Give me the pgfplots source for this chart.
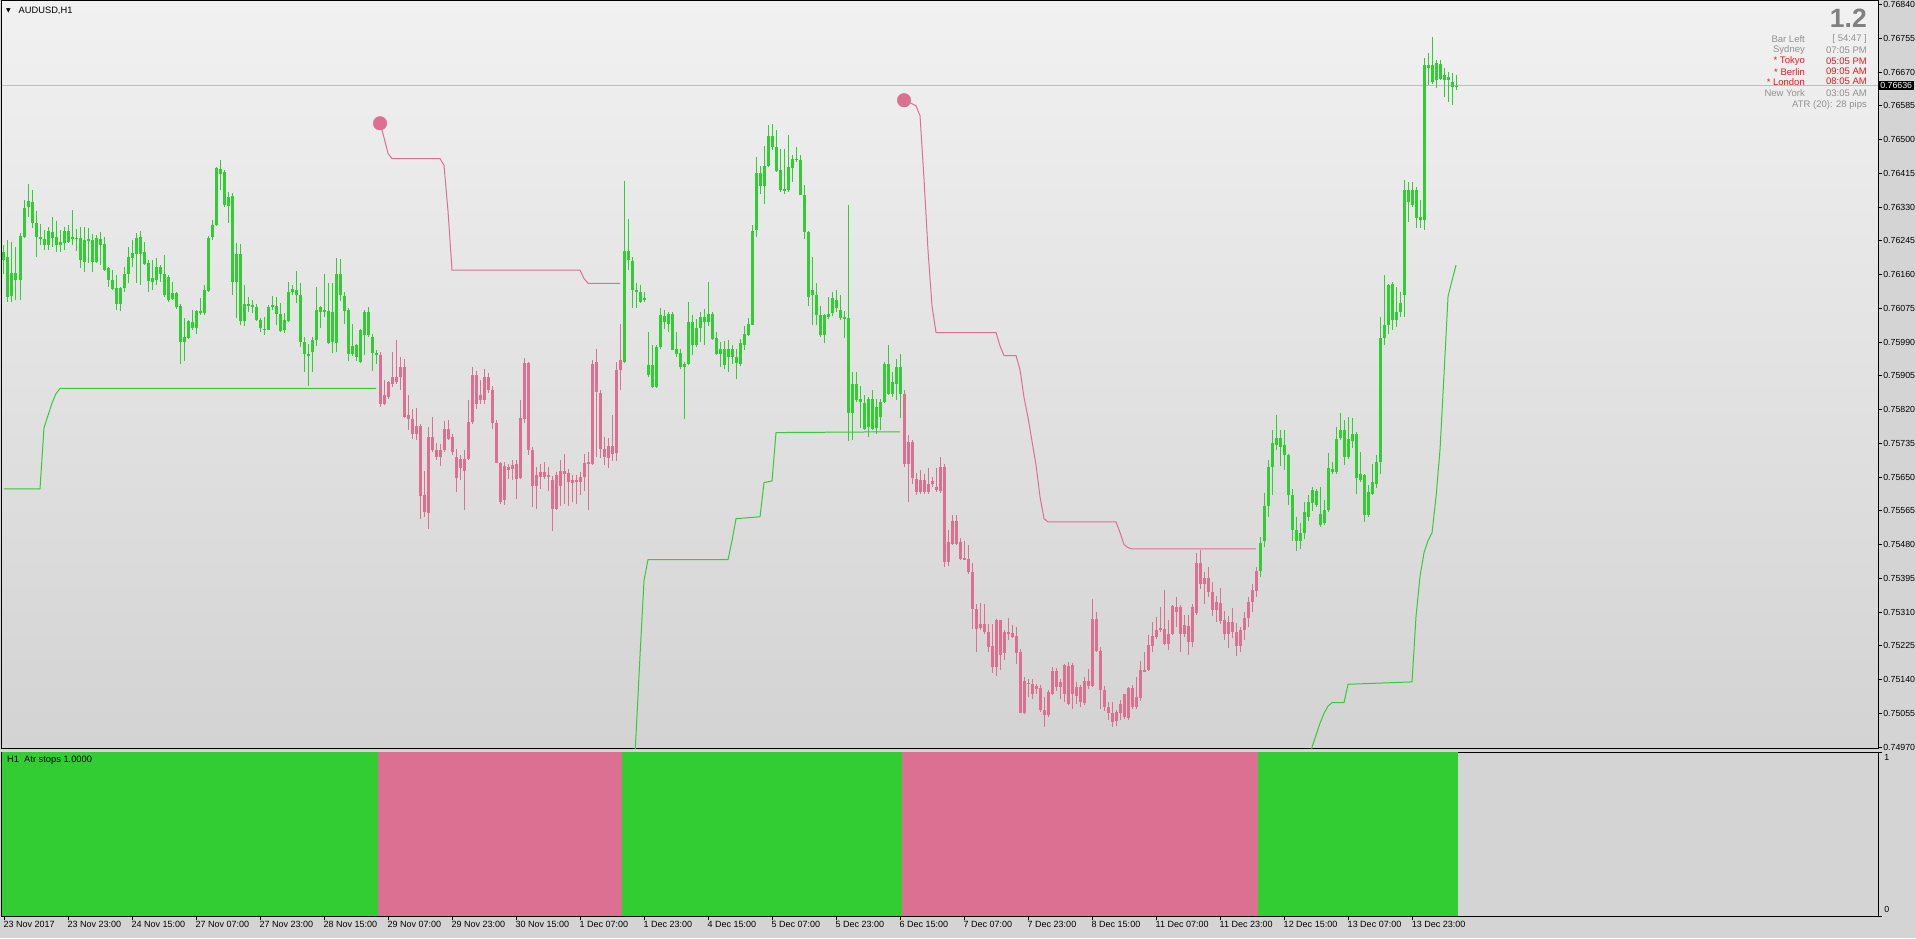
\documentclass[border=0pt]{standalone}
\usepackage{fontspec}
\setmainfont{Liberation Sans}
\newfontfamily\dejavu{DejaVu Sans}
\usepackage{pgfplots}
\usepackage{pgfplotstable}
\pgfplotsset{compat=1.18}
\definecolor{mtgreen}{RGB}{50,205,50}
\definecolor{mtpink}{RGB}{219,112,147}
\definecolor{bgtop}{RGB}{241,241,241}
\definecolor{bgbot}{RGB}{211,211,211}
\definecolor{outergray}{RGB}{212,212,212}
\definecolor{infogray}{RGB}{145,145,145}
\definecolor{infored}{RGB}{235,25,25}
\definecolor{bigone}{RGB}{128,128,128}
\definecolor{priceline}{RGB}{190,190,190}

% ---- H1 candles, prices in pips (x 1e-4) ----
\pgfplotstableread{
i o h l c
0 7621.8 7623.5 7616.3 7619.7
1 7620.4 7624.7 7609.2 7610.5
2 7610.5 7624.3 7609.2 7616.3
3 7616.3 7623.1 7609.6 7614.5
4 7614.7 7626.4 7609.6 7625.7
5 7625.7 7634.8 7625.2 7633.0
6 7633.0 7639.0 7630.6 7634.4
7 7634.4 7637.3 7627.7 7629.1
8 7629.1 7631.9 7620.5 7625.6
9 7625.6 7628.8 7623.5 7625.2
10 7625.2 7627.2 7622.2 7623.5
11 7623.5 7628.1 7622.4 7627.0
12 7626.8 7630.6 7623.1 7625.2
13 7625.4 7629.6 7621.8 7623.5
14 7623.5 7627.2 7621.8 7624.3
15 7624.1 7627.9 7622.2 7627.0
16 7627.0 7628.5 7623.9 7624.3
17 7625.2 7632.3 7623.5 7625.4
18 7625.3 7627.7 7622.2 7625.1
19 7625.2 7627.9 7617.6 7619.7
20 7619.3 7628.1 7616.8 7624.7
21 7624.6 7627.9 7618.9 7624.9
22 7624.7 7626.4 7616.8 7619.3
23 7619.3 7626.0 7618.9 7625.2
24 7625.2 7626.8 7618.4 7623.5
25 7623.6 7625.4 7617.0 7617.2
26 7617.6 7618.0 7613.0 7614.7
27 7614.7 7617.2 7612.1 7612.6
28 7612.8 7615.9 7607.1 7608.6
29 7608.6 7613.0 7606.9 7612.8
30 7612.6 7618.0 7611.7 7616.3
31 7616.3 7623.1 7613.8 7620.4
32 7620.1 7624.7 7618.0 7621.4
33 7621.4 7626.4 7613.8 7625.4
34 7625.7 7627.1 7613.4 7621.4
35 7621.8 7624.3 7618.4 7618.9
36 7618.9 7619.7 7611.7 7614.5
37 7614.2 7619.7 7612.1 7615.1
38 7614.7 7620.1 7613.4 7618.0
39 7618.0 7618.4 7614.2 7616.2
40 7616.2 7621.0 7610.5 7610.9
41 7615.5 7615.9 7609.2 7609.6
42 7610.0 7614.2 7609.6 7611.3
43 7611.3 7611.7 7607.3 7607.9
44 7608.1 7608.8 7593.5 7598.9
45 7599.1 7605.0 7594.3 7600.4
46 7600.0 7604.6 7599.7 7604.2
47 7604.2 7607.1 7602.1 7602.5
48 7602.5 7607.1 7601.2 7606.9
49 7606.9 7610.0 7605.8 7606.3
50 7606.3 7613.4 7605.8 7612.1
51 7612.0 7625.7 7611.7 7625.4
52 7625.4 7629.9 7624.9 7628.5
53 7628.5 7643.2 7628.3 7642.8
54 7642.8 7645.0 7637.3 7641.5
55 7641.9 7642.4 7633.1 7633.5
56 7633.3 7636.7 7628.9 7635.8
57 7635.8 7636.7 7610.9 7614.2
58 7614.2 7623.9 7605.0 7621.2
59 7621.2 7623.7 7603.3 7604.4
60 7604.4 7613.6 7603.3 7608.6
61 7608.6 7610.5 7606.7 7608.1
62 7608.4 7609.6 7606.4 7607.9
63 7607.9 7608.8 7604.4 7604.6
64 7604.6 7605.0 7601.6 7602.5
65 7602.5 7605.4 7600.8 7602.2
66 7602.2 7608.4 7602.1 7607.9
67 7608.4 7610.6 7607.1 7608.1
68 7608.1 7610.5 7603.3 7606.1
69 7606.3 7608.9 7601.6 7602.1
70 7602.1 7606.3 7601.4 7604.6
71 7604.4 7614.2 7604.2 7611.7
72 7611.7 7613.4 7610.9 7612.3
73 7612.3 7616.8 7608.8 7610.9
74 7610.9 7613.8 7597.7 7599.1
75 7599.1 7600.3 7591.5 7596.1
76 7596.1 7598.6 7588.1 7595.7
77 7596.5 7600.3 7591.5 7599.6
78 7599.6 7612.9 7598.2 7607.2
79 7606.6 7608.3 7602.8 7607.9
80 7607.2 7616.3 7605.4 7606.6
81 7607.0 7613.8 7598.6 7598.8
82 7599.1 7613.8 7596.3 7606.6
83 7598.8 7620.3 7596.5 7616.3
84 7616.3 7620.1 7609.6 7610.8
85 7610.8 7611.7 7603.5 7607.0
86 7607.2 7607.5 7594.4 7596.1
87 7596.1 7603.7 7595.7 7598.2
88 7598.2 7598.6 7594.4 7595.3
89 7594.0 7602.4 7593.6 7602.2
90 7600.7 7607.0 7595.7 7606.6
91 7606.6 7608.0 7600.3 7600.7
92 7600.3 7601.2 7591.9 7596.3
93 7596.3 7597.0 7593.6 7595.7
}\segA
\pgfplotstableread{
i o h l c
94 7595.7 7596.5 7582.7 7583.5
95 7583.5 7589.4 7583.1 7585.6
96 7585.2 7589.4 7584.8 7589.0
97 7588.6 7596.5 7587.7 7590.2
98 7590.4 7599.6 7588.6 7589.0
99 7590.2 7595.3 7586.9 7592.8
100 7592.8 7594.9 7579.8 7580.2
101 7580.6 7585.6 7576.8 7579.8
102 7579.8 7582.3 7574.7 7576.0
103 7576.0 7582.3 7574.3 7578.1
104 7578.1 7578.5 7554.6 7560.4
105 7560.4 7566.7 7555.0 7556.2
106 7556.0 7577.6 7552.0 7575.1
107 7575.1 7580.2 7571.4 7571.8
108 7571.9 7573.6 7569.3 7570.1
109 7570.1 7573.5 7568.0 7571.9
110 7571.8 7579.3 7571.4 7577.2
111 7577.2 7579.3 7574.3 7574.7
112 7575.1 7576.0 7570.5 7571.4
113 7570.1 7572.2 7561.3 7564.9
114 7567.2 7570.5 7564.2 7569.7
115 7569.7 7571.8 7556.7 7566.7
116 7569.7 7584.4 7569.3 7578.9
117 7578.9 7592.8 7578.5 7590.9
118 7590.9 7591.9 7582.3 7583.5
119 7584.4 7589.4 7583.5 7585.6
120 7584.4 7592.3 7583.5 7590.2
121 7590.2 7591.1 7586.2 7586.9
122 7586.9 7588.1 7577.2 7578.5
123 7578.7 7579.3 7568.4 7568.6
124 7568.6 7568.8 7558.3 7558.8
125 7559.2 7568.8 7557.9 7568.0
126 7567.6 7568.4 7564.6 7566.7
127 7567.2 7569.3 7564.2 7568.2
128 7568.4 7569.3 7559.6 7564.6
129 7564.9 7584.4 7564.6 7579.8
130 7579.8 7594.9 7578.5 7593.8
131 7593.8 7594.0 7570.5 7571.8
132 7571.9 7572.6 7557.5 7562.9
133 7562.9 7567.6 7557.1 7565.7
134 7565.2 7568.4 7562.1 7566.3
135 7566.3 7568.8 7564.6 7565.1
136 7565.1 7567.6 7561.7 7565.5
137 7564.2 7565.5 7551.6 7557.1
138 7557.1 7566.3 7556.7 7565.5
139 7566.7 7569.3 7557.9 7562.9
140 7565.9 7570.9 7558.3 7566.7
141 7566.1 7567.2 7557.9 7563.8
142 7564.2 7565.5 7558.8 7563.4
143 7563.8 7565.5 7558.3 7564.2
144 7563.8 7566.3 7560.4 7565.2
145 7565.1 7570.9 7561.7 7568.6
146 7568.8 7571.4 7556.7 7568.4
147 7568.4 7594.4 7568.0 7593.6
148 7594.0 7597.4 7570.1 7586.5
149 7586.1 7587.0 7570.0 7572.0
150 7572.0 7575.2 7568.0 7570.0
151 7570.0 7575.0 7567.5 7573.0
152 7573.0 7580.6 7569.0 7571.0
153 7571.0 7594.1 7569.0 7592.0
154 7592.0 7603.7 7586.9 7594.5
}\segB
\pgfplotstableread{
i o h l c
155 7594.1 7639.6 7593.6 7622.2
156 7622.2 7630.0 7617.2 7619.7
157 7619.4 7620.5 7607.7 7612.1
158 7612.1 7613.8 7607.5 7611.7
159 7611.7 7613.4 7608.8 7609.2
160 7609.6 7611.7 7609.2 7610.2
161 7593.2 7601.6 7590.3 7590.7
162 7593.2 7598.3 7587.5 7587.8
163 7587.8 7598.3 7587.4 7597.8
164 7597.8 7607.7 7597.4 7605.8
165 7605.8 7607.1 7602.5 7604.1
166 7603.7 7606.7 7601.6 7606.2
167 7606.2 7606.7 7597.0 7597.0
168 7597.4 7601.6 7595.3 7596.2
169 7596.2 7597.4 7592.4 7592.8
170 7592.8 7594.1 7579.8 7593.6
171 7593.6 7609.2 7593.2 7604.1
172 7604.1 7605.8 7595.7 7598.3
173 7598.3 7605.0 7597.8 7602.5
174 7602.5 7606.7 7599.1 7605.4
175 7605.4 7607.5 7598.3 7604.1
176 7604.1 7614.2 7603.3 7606.0
177 7606.2 7606.7 7599.5 7599.9
178 7600.1 7601.6 7595.7 7595.9
179 7596.2 7599.1 7592.8 7597.4
180 7597.4 7599.5 7592.4 7593.2
181 7595.3 7599.5 7591.5 7597.4
182 7597.3 7598.3 7593.6 7595.3
183 7595.3 7597.4 7589.9 7593.6
184 7593.6 7599.9 7593.2 7598.7
185 7598.3 7602.9 7597.0 7601.2
186 7600.8 7605.0 7600.4 7603.7
187 7603.5 7628.5 7603.3 7627.2
188 7627.2 7645.7 7625.5 7641.8
189 7641.8 7643.6 7636.5 7638.4
190 7638.4 7648.6 7633.9 7643.4
191 7643.4 7653.7 7643.2 7651.0
192 7651.0 7654.1 7647.4 7648.2
193 7648.2 7652.4 7641.9 7642.3
194 7642.3 7647.8 7636.9 7637.3
195 7637.1 7647.8 7636.5 7637.7
196 7637.3 7651.2 7636.9 7643.2
197 7642.9 7646.1 7639.4 7645.1
198 7645.1 7648.2 7644.4 7644.9
199 7644.9 7646.1 7636.0 7636.2
200 7636.2 7638.6 7625.1 7626.8
201 7626.8 7627.2 7608.3 7610.4
202 7610.9 7620.5 7603.3 7612.1
203 7611.0 7613.8 7603.3 7605.8
204 7606.0 7608.3 7600.4 7600.9
205 7600.9 7606.2 7598.7 7605.8
206 7605.4 7610.4 7605.0 7606.2
207 7606.2 7611.7 7605.8 7610.2
208 7609.6 7612.1 7606.7 7607.5
209 7607.1 7610.9 7604.6 7605.2
210 7605.4 7606.7 7599.9 7605.0
211 7605.0 7633.5 7574.3 7581.1
212 7581.1 7591.5 7574.3 7588.6
213 7588.6 7591.5 7584.0 7584.4
214 7584.7 7587.8 7577.3 7584.0
215 7583.8 7585.7 7576.9 7577.3
216 7577.7 7585.2 7575.2 7584.7
217 7584.7 7586.9 7576.9 7577.3
218 7577.3 7584.8 7576.0 7582.7
219 7580.2 7584.8 7576.9 7584.0
220 7584.0 7594.1 7583.6 7593.6
221 7593.6 7598.3 7585.7 7586.1
222 7586.1 7591.5 7585.2 7589.0
223 7588.6 7594.9 7584.4 7592.8
224 7592.8 7596.1 7580.0 7586.0
}\segC
\pgfplotstableread{
i o h l c
225 7586.0 7587.0 7567.6 7568.4
226 7568.4 7575.6 7558.8 7573.9
227 7573.9 7574.3 7563.4 7564.7
228 7564.7 7565.9 7560.5 7561.3
229 7561.3 7566.8 7560.9 7564.4
230 7564.4 7565.9 7560.9 7561.3
231 7561.3 7567.2 7560.9 7563.4
232 7563.4 7565.1 7562.6 7564.1
233 7562.6 7567.2 7561.3 7561.7
234 7561.7 7570.1 7560.9 7567.6
235 7567.6 7568.4 7542.4 7543.7
236 7543.7 7551.7 7542.8 7548.7
237 7548.3 7555.4 7547.9 7554.2
238 7554.2 7555.4 7547.9 7548.3
239 7548.7 7549.6 7544.1 7544.5
240 7544.8 7549.1 7544.1 7544.3
241 7544.5 7547.9 7540.7 7541.2
242 7541.2 7543.3 7526.6 7531.9
243 7531.9 7533.2 7521.0 7526.9
244 7527.1 7533.2 7526.5 7528.1
245 7528.0 7533.2 7525.6 7526.0
246 7526.0 7528.1 7521.0 7522.3
247 7522.4 7528.1 7515.6 7517.1
248 7517.1 7529.4 7515.1 7529.0
249 7529.0 7529.2 7516.4 7520.4
250 7520.8 7526.5 7518.9 7526.0
251 7526.0 7529.4 7524.0 7525.5
252 7525.8 7527.7 7524.4 7524.8
253 7525.0 7527.3 7518.1 7520.8
254 7521.0 7521.8 7505.5 7505.6
255 7505.6 7514.7 7505.5 7513.7
256 7513.2 7514.3 7509.7 7513.0
257 7513.0 7514.3 7509.3 7510.5
258 7511.8 7513.0 7510.5 7512.4
259 7511.8 7512.6 7505.9 7506.3
260 7506.3 7509.7 7502.1 7505.1
261 7505.1 7511.4 7504.6 7511.0
262 7510.5 7517.2 7510.1 7516.2
263 7516.2 7516.8 7511.0 7512.2
264 7512.2 7514.3 7509.3 7513.5
265 7510.5 7518.1 7508.4 7517.6
266 7517.6 7518.5 7507.6 7508.0
267 7510.5 7518.1 7506.7 7517.6
268 7512.2 7513.5 7508.0 7509.9
269 7508.4 7512.6 7507.2 7512.2
270 7508.2 7514.7 7507.6 7513.7
271 7513.7 7516.8 7511.8 7512.4
272 7512.4 7534.2 7512.2 7529.4
273 7529.4 7531.1 7521.0 7521.4
274 7521.4 7522.3 7506.7 7511.4
275 7511.4 7512.6 7506.3 7507.2
276 7507.2 7508.4 7503.8 7505.5
277 7505.6 7508.4 7502.1 7503.4
278 7503.8 7506.3 7502.5 7505.9
279 7505.5 7508.8 7503.8 7508.0
280 7504.6 7510.5 7504.2 7510.5
281 7504.2 7512.2 7503.8 7511.8
282 7507.2 7512.6 7506.7 7511.8
283 7507.2 7514.7 7506.7 7509.7
284 7509.3 7518.9 7508.8 7516.4
285 7516.4 7521.0 7516.0 7516.2
286 7516.4 7525.2 7516.2 7522.7
287 7522.7 7528.6 7521.0 7525.2
288 7524.8 7529.8 7524.4 7526.6
289 7526.5 7532.4 7526.0 7526.9
290 7526.9 7536.6 7522.7 7523.1
291 7523.1 7529.0 7521.4 7525.6
292 7525.5 7532.8 7525.2 7532.5
293 7532.4 7534.9 7527.3 7531.1
294 7532.4 7532.8 7521.0 7525.5
295 7525.5 7530.2 7524.8 7527.7
296 7527.7 7530.2 7520.2 7523.5
297 7523.5 7533.2 7522.3 7532.4
298 7530.8 7545.8 7530.2 7543.3
299 7543.3 7546.6 7537.0 7538.2
300 7538.2 7541.0 7533.0 7539.5
301 7539.5 7542.5 7535.0 7536.0
302 7536.0 7538.5 7530.0 7531.5
303 7531.5 7535.0 7528.5 7533.5
304 7533.5 7537.0 7528.0 7529.0
305 7529.0 7531.5 7524.0 7525.5
306 7525.5 7530.0 7522.0 7528.5
307 7528.5 7532.0 7524.5 7526.0
308 7526.0 7528.5 7520.0 7522.5
309 7522.5 7527.5 7521.0 7526.5
310 7526.5 7531.0 7524.0 7529.5
311 7529.5 7535.0 7527.5 7533.5
312 7533.5 7538.0 7531.0 7536.5
313 7536.5 7542.5 7535.0 7541.5
}\segD
\pgfplotstableread{
i o h l c
314 7541.5 7550.0 7540.0 7548.5
315 7549.0 7560.9 7547.5 7557.6
316 7557.6 7569.3 7555.0 7567.6
317 7567.6 7576.9 7560.5 7573.5
318 7573.1 7580.6 7571.8 7574.8
319 7574.8 7576.9 7568.0 7572.7
320 7573.1 7576.9 7566.8 7570.6
321 7570.6 7571.0 7558.0 7560.5
322 7560.5 7562.2 7549.0 7551.7
323 7551.7 7555.0 7546.5 7549.0
324 7549.0 7553.5 7547.0 7551.0
325 7551.0 7558.8 7549.5 7556.3
326 7555.0 7560.5 7554.2 7558.8
327 7558.4 7562.6 7556.7 7561.7
328 7561.7 7562.2 7557.6 7558.2
329 7555.9 7562.6 7552.5 7552.9
330 7553.4 7559.2 7552.9 7556.7
331 7556.7 7571.0 7556.3 7567.2
332 7567.2 7568.9 7565.9 7566.4
333 7566.4 7577.7 7565.9 7574.8
334 7574.8 7581.1 7574.3 7576.9
335 7576.9 7579.4 7568.0 7570.1
336 7570.1 7580.2 7569.7 7574.8
337 7574.3 7579.8 7572.2 7576.0
338 7576.0 7576.4 7560.9 7564.7
339 7564.3 7571.4 7563.8 7565.9
340 7565.5 7565.9 7553.8 7555.5
341 7555.5 7563.0 7555.0 7561.3
342 7560.9 7568.5 7560.5 7563.8
343 7563.4 7570.6 7562.2 7568.9
344 7568.9 7605.4 7565.9 7600.0
345 7600.0 7615.9 7598.3 7603.3
346 7603.3 7613.8 7601.2 7613.4
347 7613.8 7614.2 7602.1 7604.6
348 7604.6 7613.0 7602.9 7606.7
349 7606.7 7611.7 7605.4 7608.8
350 7610.9 7639.8 7605.4 7637.3
351 7637.3 7639.4 7629.3 7634.4
352 7633.5 7639.4 7633.1 7637.3
353 7637.3 7638.2 7627.7 7630.2
354 7629.8 7634.8 7627.7 7630.6
355 7629.8 7670.5 7627.2 7668.8
356 7668.8 7671.9 7663.8 7668.0
357 7664.6 7676.0 7664.2 7668.8
358 7669.2 7670.1 7662.9 7665.0
359 7665.4 7670.2 7665.0 7669.2
360 7666.3 7668.0 7660.8 7665.0
361 7665.0 7667.1 7659.6 7665.9
362 7664.6 7666.7 7658.7 7663.3
363 7663.3 7666.3 7662.5 7663.6
}\segE

\newcommand{\candles}[2]{%
  \addplot[draw=none, mark=none, forget plot,
    error bars/.cd, y dir=both, y explicit, error mark=none,
    error bar style={draw=#2, line width=1pt}]
    table[x=i, y expr={(\thisrow{h}+\thisrow{l})/2},
          y error expr={(\thisrow{h}-\thisrow{l})/2}] {#1};
  \addplot[draw=none, mark=none, forget plot,
    error bars/.cd, y dir=both, y explicit, error mark=none,
    error bar style={draw=#2, line width=3pt}]
    table[x=i, y expr={(\thisrow{o}+\thisrow{c})/2},
          y error expr={max(abs(\thisrow{o}-\thisrow{c})/2,0.13)}] {#1};
}

\begin{document}
\begin{tikzpicture}[x=1pt,y=1pt]
\fill[outergray] (0,0) rectangle (1916,938);

\begin{axis}[
  at={(2pt,189pt)}, anchor=south west,
  scale only axis, width=1876pt, height=748pt,
  xmin=-0.5, xmax=468.5, ymin=7496.5, ymax=7684.9,
  axis line style={black, line width=1pt},
  axis background/.style={top color=bgtop, bottom color=bgbot},
  xtick=\empty,
  ytick={7497,7505.5,7514,7522.5,7531,7539.5,7548,7556.5,7565,7573.5,7582,7590.5,7599,7607.5,7616,7624.5,7633,7641.5,7650,7658.5,7667,7675.5,7684},
  yticklabels={0.74970,0.75055,0.75140,0.75225,0.75310,0.75395,0.75480,0.75565,0.75650,0.75735,0.75820,0.75905,0.75990,0.76075,0.76160,0.76245,0.76330,0.76415,0.76500,0.76585,0.76670,0.76755,0.76840},
  ytick pos=right, yticklabel pos=right,
  tick align=outside, major tick length=4pt,
  tick style={black, line width=0.8pt},
  yticklabel style={font=\fontsize{8.8}{10}\selectfont, inner sep=1pt, xshift=0pt},
  clip=true,
]
% current price line
\addplot[priceline, line width=0.9pt] coordinates {(-0.5,7663.6) (468.5,7663.6)};
% ATR stop lines
\addplot[mtgreen, line width=1pt] coordinates {(0,7562.0) (9,7562.0) (10,7577.4) (11,7580.5) (12,7583.6) (13,7586.0) (14,7587.3) (93,7587.3)};
\addplot[mtpink, line width=1pt] coordinates {(94,7654.1) (95,7650.5) (96,7646.5) (97,7645.2) (109,7645.2) (110,7643.5) (111,7632.0) (112,7617.1) (144,7617.1) (145,7615.0) (146,7613.8) (154,7613.8)};
\addplot[mtgreen, line width=1pt] coordinates {(155,7440) (156,7460) (157,7482) (158,7500) (159,7520) (160,7539) (161,7544.2) (181,7544.2) (182,7549) (183,7554.5) (189,7555.0) (190,7563.6) (192,7564.0) (193,7576.2) (224,7576.4)};
\addplot[mtpink, line width=1pt] coordinates {(225,7659.9) (226,7659.5) (227,7659.0) (228,7658.5) (229,7656.0) (230,7640.0) (231,7622.0) (232,7608.0) (233,7601.4) (248,7601.4) (249,7598.0) (250,7595.6) (253,7595.6) (254,7592.0) (255,7585.0) (256,7580.0) (257,7574.0) (258,7568.0) (259,7560.0) (260,7554.5) (261,7553.7) (278,7553.7) (279,7551.0) (280,7548.0) (281,7547.2) (282,7546.9) (313,7546.9)};
\addplot[mtgreen, line width=1pt] coordinates {(314,7420) (326,7490) (327,7497) (328,7500) (329,7503) (330,7505.5) (331,7507.3) (332,7508.2) (335,7508.2) (336,7512.8) (352,7513.4) (353,7530) (354,7540) (355,7546) (356,7549) (357,7551) (358,7560) (359,7572) (360,7591) (361,7610.5) (362,7614.5) (363,7618.4)};
% candles
\candles{\segA}{mtgreen}
\candles{\segB}{mtpink}
\candles{\segC}{mtgreen}
\candles{\segD}{mtpink}
\candles{\segE}{mtgreen}
% reversal dots
\addplot[only marks, mark=*, mark size=6.8pt, mark options={fill=mtpink, draw=mtpink}] coordinates {(94,7654.1) (225,7659.9)};
\coordinate (bid) at (axis cs:468.5,7663.6);
\end{axis}

\begin{axis}[
  at={(2pt,22pt)}, anchor=south west,
  scale only axis, width=1876pt, height=164pt,
  xmin=-0.5, xmax=468.5, ymin=0, ymax=1,
  axis line style={black, line width=1pt},
  axis background/.style={fill=outergray},
  xtick={0,16,32,48,64,80,96,112,128,144,160,176,192,208,224,240,256,272,288,304,320,336,352},
  xticklabels={23 Nov 2017,23 Nov 23:00,24 Nov 15:00,27 Nov 07:00,27 Nov 23:00,28 Nov 15:00,29 Nov 07:00,29 Nov 23:00,30 Nov 15:00,1 Dec 07:00,1 Dec 23:00,4 Dec 15:00,5 Dec 07:00,5 Dec 23:00,6 Dec 15:00,7 Dec 07:00,7 Dec 23:00,8 Dec 15:00,11 Dec 07:00,11 Dec 23:00,12 Dec 15:00,13 Dec 07:00,13 Dec 23:00},
  xtick pos=bottom,
  xticklabel style={font=\fontsize{9}{10}\selectfont, anchor=north west, inner sep=0pt, xshift=-0.5pt, yshift=-1pt},
  ytick={0,1}, yticklabels={,}, ytick pos=right,
  tick align=outside, major tick length=4pt,
  tick style={black, line width=0.8pt},
]
\addplot[ybar interval, fill=mtgreen, draw=none] coordinates {(-0.5,1) (93.5,1)};
\addplot[ybar interval, fill=mtpink, draw=none] coordinates {(93.5,1) (154.5,1)};
\addplot[ybar interval, fill=mtgreen, draw=none] coordinates {(154.5,1) (224.5,1)};
\addplot[ybar interval, fill=mtpink, draw=none] coordinates {(224.5,1) (313.5,1)};
\addplot[ybar interval, fill=mtgreen, draw=none] coordinates {(313.5,1) (363.5,1)};
\coordinate (one) at (axis cs:468.5,1);
\coordinate (zero) at (axis cs:468.5,0);
\end{axis}

% panel texts
\node[anchor=north west, inner sep=0pt, font=\fontsize{8.8}{10}\selectfont, xshift=6pt, yshift=-2pt] at (one) {1};
\node[anchor=south west, inner sep=0pt, font=\fontsize{8.8}{10}\selectfont, xshift=6pt, yshift=3pt] at (zero) {0};
\node[fill=black, text=white, anchor=west, inner xsep=2pt, inner ysep=1.5pt, font=\fontsize{8.8}{10}\selectfont] at (bid) {0.76636};

\node[anchor=west, inner sep=0pt] at (6,927.5) {\dejavu\fontsize{6}{6}\selectfont ▼};
\node[anchor=west, inner sep=0pt, font=\fontsize{9.3}{10}\selectfont] at (18.5,927.5) {AUDUSD,H1};
\node[anchor=west, inner sep=0pt, font=\fontsize{9.3}{10}\selectfont] at (7,177.5) {H1\ \ Atr stops 1.0000};

\node[anchor=east, inner sep=0pt, text=bigone, font=\bfseries\fontsize{26.5}{27}\selectfont] at (1867,919.5) {1.2};
\begin{scope}[every node/.style={inner sep=0pt, font=\fontsize{9.5}{10}\selectfont}]
\node[anchor=east, text=infogray] at (1805,899) {Bar Left};
\node[anchor=east, text=infogray] at (1867,899) {[ 54:47 ]};
\node[anchor=east, text=infogray] at (1805,888) {Sydney};
\node[anchor=east, text=infogray] at (1867,888) {07:05 PM};
\node[anchor=east, text=infored] at (1805,877) {* Tokyo};
\node[anchor=east, text=infored] at (1867,877) {05:05 PM};
\node[anchor=east, text=infored] at (1805,866.3) {* Berlin};
\node[anchor=east, text=infored] at (1867,866.3) {09:05 AM};
\node[anchor=east, text=infored] at (1805,856.3) {* London};
\node[anchor=east, text=infored] at (1867,856.3) {08:05 AM};
\node[anchor=east, text=infogray] at (1805,844.7) {New York};
\node[anchor=east, text=infogray] at (1867,844.7) {03:05 AM};
\node[anchor=east, text=infogray] at (1867,833) {ATR (20): 28 pips};
\end{scope}

\pgfresetboundingbox
\path[use as bounding box] (0,0) rectangle (1916,938);
\end{tikzpicture}
\end{document}
